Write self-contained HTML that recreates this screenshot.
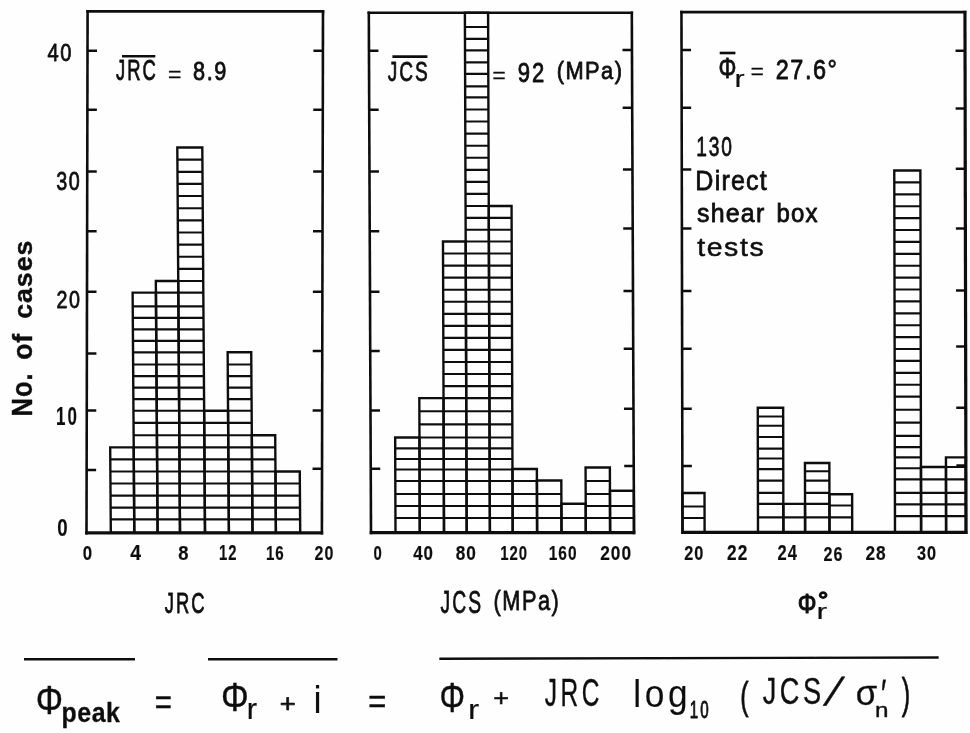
<!DOCTYPE html>
<html lang="en"><head><meta charset="utf-8"><title>Histograms of JRC, JCS and residual friction angle</title>
<style>
html,body{margin:0;padding:0;background:#fff;}
svg{display:block;}
</style></head>
<body>
<svg width="970" height="733" viewBox="0 0 970 733">
<defs><filter id="soft" x="0" y="0" width="970" height="733" filterUnits="userSpaceOnUse"><feGaussianBlur stdDeviation="0.55"/></filter></defs>
<rect width="970" height="733" fill="#fefefe"/>
<g filter="url(#soft)">
<g stroke="#111" fill="none" stroke-linecap="butt">
<g transform="translate(0,532.9) skewX(-0.12) translate(0,-532.9)">
<path d="M86.5 534.5V10.1" stroke-width="2.6"/>
<path d="M321.9 534.5V10.1" stroke-width="2.6"/>
<path d="M85.2 11.4H323.2" stroke-width="2.6"/>
<path d="M85.2 532.9H323.2" stroke-width="3.2"/>
<line x1="86.5" y1="50.8" x2="96.0" y2="50.8" stroke-width="2.5" />
<line x1="86.5" y1="109.8" x2="96.0" y2="109.8" stroke-width="2.5" />
<line x1="86.5" y1="171.5" x2="96.0" y2="171.5" stroke-width="2.5" />
<line x1="86.5" y1="231.3" x2="96.0" y2="231.3" stroke-width="2.5" />
<line x1="86.5" y1="291.7" x2="96.0" y2="291.7" stroke-width="2.5" />
<line x1="86.5" y1="353.5" x2="96.0" y2="353.5" stroke-width="2.5" />
<line x1="86.5" y1="410.5" x2="96.0" y2="410.5" stroke-width="2.5" />
<line x1="86.5" y1="470.0" x2="96.0" y2="470.0" stroke-width="2.5" />
<line x1="312.4" y1="50.8" x2="321.9" y2="50.8" stroke-width="2.5" />
<line x1="312.4" y1="109.8" x2="321.9" y2="109.8" stroke-width="2.5" />
<line x1="312.4" y1="171.5" x2="321.9" y2="171.5" stroke-width="2.5" />
<line x1="312.4" y1="231.3" x2="321.9" y2="231.3" stroke-width="2.5" />
<line x1="312.4" y1="291.7" x2="321.9" y2="291.7" stroke-width="2.5" />
<line x1="312.4" y1="351.0" x2="321.9" y2="351.0" stroke-width="2.5" />
<line x1="312.4" y1="410.5" x2="321.9" y2="410.5" stroke-width="2.5" />
<line x1="312.4" y1="468.7" x2="321.9" y2="468.7" stroke-width="2.5" />
</g>
<g transform="translate(0,532.9) skewX(0.4) translate(0,-532.9)">
<rect x="110.8" y="447.4" width="23.5" height="85.5" stroke-width="2.4"/>
<path d="M110.8 519.3H134.3M110.8 507.6H134.3M110.8 495.6H134.3M110.8 483.5H134.3M110.8 471.5H134.3M110.8 459.4H134.3" stroke-width="2.15"/>
<rect x="134.3" y="292.6" width="23.3" height="240.3" stroke-width="2.4"/>
<path d="M134.3 519.3H157.6M134.3 507.6H157.6M134.3 495.6H157.6M134.3 483.5H157.6M134.3 471.5H157.6M134.3 459.4H157.6M134.3 447.4H157.6M134.3 435.2H157.6M134.3 422.9H157.6M134.3 410.7H157.6M134.3 399.1H157.6M134.3 387.6H157.6M134.3 376.1H157.6M134.3 364.5H157.6M134.3 352.3H157.6M134.3 340.8H157.6M134.3 329.3H157.6M134.3 317.8H157.6M134.3 306.3H157.6" stroke-width="2.15"/>
<rect x="157.6" y="281.0" width="22.4" height="251.9" stroke-width="2.4"/>
<path d="M157.6 519.3H180.0M157.6 507.6H180.0M157.6 495.6H180.0M157.6 483.5H180.0M157.6 471.5H180.0M157.6 459.4H180.0M157.6 447.4H180.0M157.6 435.2H180.0M157.6 422.9H180.0M157.6 410.7H180.0M157.6 399.1H180.0M157.6 387.6H180.0M157.6 376.1H180.0M157.6 364.5H180.0M157.6 352.3H180.0M157.6 340.8H180.0M157.6 329.3H180.0M157.6 317.8H180.0M157.6 306.3H180.0M157.6 292.6H180.0" stroke-width="2.15"/>
<rect x="180.0" y="147.5" width="25.0" height="385.4" stroke-width="2.4"/>
<path d="M180.0 519.3H205.0M180.0 507.6H205.0M180.0 495.6H205.0M180.0 483.5H205.0M180.0 471.5H205.0M180.0 459.4H205.0M180.0 447.4H205.0M180.0 435.2H205.0M180.0 422.9H205.0M180.0 410.7H205.0M180.0 399.1H205.0M180.0 387.6H205.0M180.0 376.1H205.0M180.0 364.5H205.0M180.0 352.3H205.0M180.0 340.8H205.0M180.0 329.3H205.0M180.0 317.8H205.0M180.0 306.3H205.0M180.0 292.6H205.0M180.0 281.0H205.0M180.0 268.9H205.0M180.0 256.7H205.0M180.0 244.6H205.0M180.0 232.5H205.0M180.0 220.3H205.0M180.0 208.2H205.0M180.0 196.0H205.0M180.0 183.9H205.0M180.0 171.8H205.0M180.0 159.6H205.0" stroke-width="2.15"/>
<rect x="205.0" y="410.7" width="23.9" height="122.2" stroke-width="2.4"/>
<path d="M205.0 519.3H228.9M205.0 507.6H228.9M205.0 495.6H228.9M205.0 483.5H228.9M205.0 471.5H228.9M205.0 459.4H228.9M205.0 447.4H228.9M205.0 435.2H228.9M205.0 422.9H228.9" stroke-width="2.15"/>
<rect x="228.9" y="352.3" width="23.6" height="180.6" stroke-width="2.4"/>
<path d="M228.9 519.3H252.5M228.9 507.6H252.5M228.9 495.6H252.5M228.9 483.5H252.5M228.9 471.5H252.5M228.9 459.4H252.5M228.9 447.4H252.5M228.9 435.2H252.5M228.9 422.9H252.5M228.9 410.7H252.5M228.9 399.1H252.5M228.9 387.6H252.5M228.9 376.1H252.5M228.9 364.5H252.5" stroke-width="2.15"/>
<rect x="252.5" y="435.2" width="23.4" height="97.7" stroke-width="2.4"/>
<path d="M252.5 519.3H275.9M252.5 507.6H275.9M252.5 495.6H275.9M252.5 483.5H275.9M252.5 471.5H275.9M252.5 459.4H275.9M252.5 447.4H275.9" stroke-width="2.15"/>
<rect x="275.9" y="471.5" width="24.3" height="61.4" stroke-width="2.4"/>
<path d="M275.9 519.3H300.2M275.9 507.6H300.2M275.9 495.6H300.2M275.9 483.5H300.2" stroke-width="2.15"/>
</g>
<g transform="translate(0,532.6) skewX(0.242) translate(0,-532.6)">
<path d="M371.0 534.2V11.399999999999999" stroke-width="2.6"/>
<path d="M634.0 534.2V11.399999999999999" stroke-width="2.6"/>
<path d="M369.7 12.7H635.3" stroke-width="2.6"/>
<path d="M369.7 532.6H635.3" stroke-width="3.2"/>
<line x1="371.0" y1="50.8" x2="380.5" y2="50.8" stroke-width="2.5" />
<line x1="371.0" y1="109.8" x2="380.5" y2="109.8" stroke-width="2.5" />
<line x1="371.0" y1="171.5" x2="380.5" y2="171.5" stroke-width="2.5" />
<line x1="371.0" y1="231.3" x2="380.5" y2="231.3" stroke-width="2.5" />
<line x1="371.0" y1="291.7" x2="380.5" y2="291.7" stroke-width="2.5" />
<line x1="371.0" y1="351.0" x2="380.5" y2="351.0" stroke-width="2.5" />
<line x1="371.0" y1="410.5" x2="380.5" y2="410.5" stroke-width="2.5" />
<line x1="371.0" y1="468.7" x2="380.5" y2="468.7" stroke-width="2.5" />
<line x1="624.5" y1="50.0" x2="634.0" y2="50.0" stroke-width="2.5" />
<line x1="624.5" y1="107.8" x2="634.0" y2="107.8" stroke-width="2.5" />
<line x1="624.5" y1="169.5" x2="634.0" y2="169.5" stroke-width="2.5" />
<line x1="624.5" y1="228.5" x2="634.0" y2="228.5" stroke-width="2.5" />
<line x1="624.5" y1="291.0" x2="634.0" y2="291.0" stroke-width="2.5" />
<line x1="624.5" y1="348.7" x2="634.0" y2="348.7" stroke-width="2.5" />
<line x1="624.5" y1="408.7" x2="634.0" y2="408.7" stroke-width="2.5" />
<line x1="624.5" y1="466.0" x2="634.0" y2="466.0" stroke-width="2.5" />
</g>
<g transform="translate(0,532.6) skewX(0.2) translate(0,-532.6)">
<rect x="395.5" y="437.5" width="24.3" height="95.1" stroke-width="2.4"/>
<path d="M395.5 518.0H419.8M395.5 506.0H419.8M395.5 494.0H419.8M395.5 481.0H419.8M395.5 469.5H419.8M395.5 459.0H419.8M395.5 448.4H419.8" stroke-width="2.15"/>
<rect x="419.8" y="398.1" width="24.2" height="134.5" stroke-width="2.4"/>
<path d="M419.8 518.0H444.0M419.8 506.0H444.0M419.8 494.0H444.0M419.8 481.0H444.0M419.8 469.5H444.0M419.8 459.0H444.0M419.8 448.4H444.0M419.8 437.5H444.0M419.8 424.4H444.0M419.8 411.2H444.0" stroke-width="2.15"/>
<rect x="444.0" y="241.5" width="22.7" height="291.1" stroke-width="2.4"/>
<path d="M444.0 518.0H466.7M444.0 506.0H466.7M444.0 494.0H466.7M444.0 481.0H466.7M444.0 469.5H466.7M444.0 459.0H466.7M444.0 448.4H466.7M444.0 437.5H466.7M444.0 424.4H466.7M444.0 411.2H466.7M444.0 398.1H466.7M444.0 386.1H466.7M444.0 374.0H466.7M444.0 362.0H466.7M444.0 349.9H466.7M444.0 337.9H466.7M444.0 325.8H466.7M444.0 313.8H466.7M444.0 301.7H466.7M444.0 289.7H466.7M444.0 277.6H466.7M444.0 265.6H466.7M444.0 253.5H466.7" stroke-width="2.15"/>
<rect x="466.7" y="12.7" width="23.2" height="519.9" stroke-width="2.4"/>
<path d="M466.7 518.0H489.9M466.7 506.0H489.9M466.7 494.0H489.9M466.7 481.0H489.9M466.7 469.5H489.9M466.7 459.0H489.9M466.7 448.4H489.9M466.7 437.5H489.9M466.7 424.4H489.9M466.7 411.2H489.9M466.7 398.1H489.9M466.7 386.1H489.9M466.7 374.0H489.9M466.7 362.0H489.9M466.7 349.9H489.9M466.7 337.9H489.9M466.7 325.8H489.9M466.7 313.8H489.9M466.7 301.7H489.9M466.7 289.7H489.9M466.7 277.6H489.9M466.7 265.6H489.9M466.7 253.5H489.9M466.7 241.5H489.9M466.7 229.7H489.9M466.7 217.8H489.9M466.7 206.0H489.9M466.7 193.9H489.9M466.7 181.9H489.9M466.7 169.8H489.9M466.7 157.7H489.9M466.7 145.7H489.9M466.7 133.6H489.9M466.7 121.5H489.9M466.7 109.5H489.9M466.7 97.4H489.9M466.7 86.3H489.9M466.7 73.9H489.9M466.7 62.4H489.9M466.7 50.4H489.9M466.7 38.8H489.9M466.7 27.0H489.9" stroke-width="2.15"/>
<rect x="489.9" y="206.0" width="22.8" height="326.6" stroke-width="2.4"/>
<path d="M489.9 518.0H512.7M489.9 506.0H512.7M489.9 494.0H512.7M489.9 481.0H512.7M489.9 469.5H512.7M489.9 459.0H512.7M489.9 448.4H512.7M489.9 437.5H512.7M489.9 424.4H512.7M489.9 411.2H512.7M489.9 398.1H512.7M489.9 386.1H512.7M489.9 374.0H512.7M489.9 362.0H512.7M489.9 349.9H512.7M489.9 337.9H512.7M489.9 325.8H512.7M489.9 313.8H512.7M489.9 301.7H512.7M489.9 289.7H512.7M489.9 277.6H512.7M489.9 265.6H512.7M489.9 253.5H512.7M489.9 241.5H512.7M489.9 229.7H512.7M489.9 217.8H512.7" stroke-width="2.15"/>
<rect x="512.7" y="469.0" width="24.4" height="63.6" stroke-width="2.4"/>
<path d="M512.7 518.0H537.1M512.7 506.0H537.1M512.7 494.0H537.1M512.7 481.0H537.1" stroke-width="2.15"/>
<rect x="537.1" y="480.5" width="24.4" height="52.1" stroke-width="2.4"/>
<path d="M537.1 518.0H561.5M537.1 506.0H561.5M537.1 494.0H561.5" stroke-width="2.15"/>
<rect x="561.5" y="503.7" width="24.3" height="28.9" stroke-width="2.4"/>
<path d="M561.5 518.0H585.8" stroke-width="2.15"/>
<rect x="585.8" y="467.5" width="24.3" height="65.1" stroke-width="2.4"/>
<path d="M585.8 518.0H610.1M585.8 506.0H610.1M585.8 494.0H610.1M585.8 481.0H610.1" stroke-width="2.15"/>
<rect x="610.1" y="490.7" width="23.9" height="41.9" stroke-width="2.4"/>
<path d="M610.1 518.0H634.0M610.1 506.0H634.0" stroke-width="2.15"/>
</g>
<g transform="translate(0,532.3) skewX(0.115) translate(0,-532.3)">
<path d="M682.5 533.9V10.799999999999999" stroke-width="2.6"/>
<path d="M966.0 533.9V10.799999999999999" stroke-width="3.2"/>
<path d="M681.2 12.1H967.3" stroke-width="2.6"/>
<path d="M681.2 532.3H967.3" stroke-width="3.2"/>
<line x1="682.5" y1="50.0" x2="692.0" y2="50.0" stroke-width="2.5" />
<line x1="682.5" y1="107.8" x2="692.0" y2="107.8" stroke-width="2.5" />
<line x1="682.5" y1="169.5" x2="692.0" y2="169.5" stroke-width="2.5" />
<line x1="682.5" y1="228.5" x2="692.0" y2="228.5" stroke-width="2.5" />
<line x1="682.5" y1="291.0" x2="692.0" y2="291.0" stroke-width="2.5" />
<line x1="682.5" y1="348.7" x2="692.0" y2="348.7" stroke-width="2.5" />
<line x1="682.5" y1="408.7" x2="692.0" y2="408.7" stroke-width="2.5" />
<line x1="682.5" y1="466.0" x2="692.0" y2="466.0" stroke-width="2.5" />
<line x1="956.5" y1="50.8" x2="966.0" y2="50.8" stroke-width="2.5" />
<line x1="956.5" y1="108.5" x2="966.0" y2="108.5" stroke-width="2.5" />
<line x1="956.5" y1="168.8" x2="966.0" y2="168.8" stroke-width="2.5" />
<line x1="956.5" y1="228.5" x2="966.0" y2="228.5" stroke-width="2.5" />
<line x1="956.5" y1="290.6" x2="966.0" y2="290.6" stroke-width="2.5" />
<line x1="956.5" y1="346.5" x2="966.0" y2="346.5" stroke-width="2.5" />
<line x1="956.5" y1="407.7" x2="966.0" y2="407.7" stroke-width="2.5" />
<line x1="956.5" y1="465.5" x2="966.0" y2="465.5" stroke-width="2.5" />
</g>
<g transform="translate(0,532.3) skewX(0.115) translate(0,-532.3)">
<rect x="682.5" y="493.0" width="22.1" height="39.3" stroke-width="2.4"/>
<path d="M682.5 506.5H704.6M682.5 518.0H704.6" stroke-width="2.15"/>
<rect x="758.0" y="407.7" width="25.4" height="124.6" stroke-width="2.4"/>
<path d="M758.0 416.5H783.4M758.0 425.7H783.4M758.0 437.0H783.4M758.0 448.6H783.4M758.0 458.5H783.4M758.0 469.1H783.4M758.0 480.6H783.4M758.0 492.9H783.4M758.0 503.9H783.4M758.0 517.4H783.4" stroke-width="2.15"/>
<rect x="783.4" y="503.9" width="21.7" height="28.4" stroke-width="2.4"/>
<path d="M783.4 517.4H805.1" stroke-width="2.15"/>
<rect x="805.1" y="463.0" width="24.4" height="69.3" stroke-width="2.4"/>
<path d="M805.1 471.2H829.5M805.1 480.6H829.5M805.1 492.9H829.5M805.1 503.9H829.5M805.1 517.4H829.5" stroke-width="2.15"/>
<rect x="829.5" y="494.3" width="22.7" height="38.0" stroke-width="2.4"/>
<path d="M829.5 505.5H852.2M829.5 517.4H852.2" stroke-width="2.15"/>
<rect x="895.0" y="170.5" width="26.1" height="361.8" stroke-width="2.4"/>
<path d="M895.0 516.1H921.1M895.0 504.4H921.1M895.0 492.8H921.1M895.0 479.3H921.1M895.0 468.2H921.1M895.0 457.4H921.1M895.0 447.1H921.1M895.0 435.9H921.1M895.0 422.6H921.1M895.0 409.7H921.1M895.0 396.6H921.1M895.0 384.7H921.1M895.0 372.8H921.1M895.0 360.9H921.1M895.0 349.0H921.1M895.0 337.1H921.1M895.0 325.2H921.1M895.0 313.3H921.1M895.0 301.4H921.1M895.0 289.5H921.1M895.0 277.6H921.1M895.0 265.7H921.1M895.0 253.8H921.1M895.0 241.9H921.1M895.0 230.0H921.1M895.0 218.1H921.1M895.0 206.2H921.1M895.0 194.3H921.1M895.0 182.4H921.1" stroke-width="2.15"/>
<rect x="921.1" y="467.0" width="25.0" height="65.3" stroke-width="2.4"/>
<path d="M921.1 479.3H946.1M921.1 492.8H946.1M921.1 504.4H946.1M921.1 516.1H946.1" stroke-width="2.15"/>
<rect x="946.1" y="457.4" width="19.9" height="74.9" stroke-width="2.4"/>
<path d="M946.1 467.0H966.0M946.1 479.3H966.0M946.1 492.8H966.0M946.1 504.4H966.0M946.1 516.1H966.0" stroke-width="2.15"/>
</g>
<line x1="24.0" y1="659.2" x2="135.0" y2="659.2" stroke-width="2.5" />
<line x1="208.0" y1="659.2" x2="337.5" y2="659.2" stroke-width="2.5" />
<line x1="439.3" y1="658.7" x2="938.7" y2="657.5" stroke-width="2.4" />
<line x1="122.0" y1="56.3" x2="155.3" y2="56.3" stroke-width="2.6" />
<line x1="392.4" y1="56.6" x2="427.4" y2="56.6" stroke-width="2.6" />
<line x1="719.7" y1="53.0" x2="735.4" y2="53.0" stroke-width="2.6" />
</g>
<g fill="#111" stroke="#111" stroke-linejoin="round" font-family="'Liberation Sans', sans-serif">
<text transform="translate(47.54,60.96) scale(0.827,1)" font-size="24.29" stroke-width="0.8" letter-spacing="1.81">40</text>
<text transform="translate(56.25,189.95) scale(0.780,1)" font-size="25.28" stroke-width="0.8" letter-spacing="1.92">30</text>
<text transform="translate(56.62,308.17) scale(0.838,1)" font-size="23.45" stroke-width="0.8" letter-spacing="1.79">20</text>
<text transform="translate(56.03,425.04) scale(0.660,1)" font-size="25.71" stroke-width="0.2" font-weight="bold" letter-spacing="3.03">10</text>
<text transform="translate(57.27,535.75) scale(0.756,1)" font-size="24.72" stroke-width="0.2" font-weight="bold">0</text>
<text transform="translate(32.3,416) rotate(-90) translate(-0.51,-0.19) scale(0.872,1)" font-size="29.23" stroke-width="0.4" font-weight="bold" letter-spacing="1.15">No.</text>
<text transform="translate(32.3,416) rotate(-90) translate(56.16,-0.18) scale(0.943,1)" font-size="28.16" stroke-width="0.4" font-weight="bold" letter-spacing="1.06">of</text>
<text transform="translate(32.3,416) rotate(-90) translate(97.16,-0.16) scale(1.011,1)" font-size="26.41" stroke-width="0.4" font-weight="bold" letter-spacing="0.99">cases</text>
<text transform="translate(82.84,559.69) scale(0.799,1)" font-size="21.05" stroke-width="0.2" font-weight="bold" letter-spacing="1.25">0</text>
<text transform="translate(130.21,559.90) scale(0.896,1)" font-size="21.66" stroke-width="0.2" font-weight="bold" letter-spacing="1.12">4</text>
<text transform="translate(178.21,559.69) scale(0.877,1)" font-size="21.05" stroke-width="0.2" font-weight="bold" letter-spacing="1.14">8</text>
<text transform="translate(218.96,559.90) scale(0.696,1)" font-size="21.35" stroke-width="0.2" font-weight="bold" letter-spacing="1.44">12</text>
<text transform="translate(265.95,559.69) scale(0.718,1)" font-size="21.05" stroke-width="0.2" font-weight="bold" letter-spacing="1.39">16</text>
<text transform="translate(314.54,559.69) scale(0.761,1)" font-size="21.05" stroke-width="0.2" font-weight="bold" letter-spacing="1.31">20</text>
<text transform="translate(373.52,559.69) scale(0.709,1)" font-size="21.05" stroke-width="0.2" font-weight="bold" letter-spacing="1.41">0</text>
<text transform="translate(413.15,559.69) scale(0.805,1)" font-size="21.05" stroke-width="0.2" font-weight="bold" letter-spacing="1.24">40</text>
<text transform="translate(455.75,559.69) scale(0.819,1)" font-size="21.05" stroke-width="0.2" font-weight="bold" letter-spacing="1.22">80</text>
<text transform="translate(500.16,559.69) scale(0.708,1)" font-size="21.05" stroke-width="0.2" font-weight="bold" letter-spacing="1.41">120</text>
<text transform="translate(548.73,559.69) scale(0.735,1)" font-size="21.05" stroke-width="0.2" font-weight="bold" letter-spacing="1.36">160</text>
<text transform="translate(600.20,559.69) scale(0.821,1)" font-size="21.05" stroke-width="0.2" font-weight="bold" letter-spacing="1.22">200</text>
<text transform="translate(684.23,559.69) scale(0.775,1)" font-size="21.05" stroke-width="0.2" font-weight="bold" letter-spacing="1.29">20</text>
<text transform="translate(727.10,559.90) scale(0.809,1)" font-size="21.35" stroke-width="0.2" font-weight="bold" letter-spacing="1.24">22</text>
<text transform="translate(777.52,559.90) scale(0.773,1)" font-size="21.35" stroke-width="0.2" font-weight="bold" letter-spacing="1.29">24</text>
<text transform="translate(823.54,560.69) scale(0.767,1)" font-size="21.05" stroke-width="0.2" font-weight="bold" letter-spacing="1.30">26</text>
<text transform="translate(865.49,559.69) scale(0.822,1)" font-size="21.05" stroke-width="0.2" font-weight="bold" letter-spacing="1.22">28</text>
<text transform="translate(917.03,559.67) scale(0.772,1)" font-size="21.02" stroke-width="0.2" font-weight="bold" letter-spacing="1.30">30</text>
<text transform="translate(164.71,612.70) scale(0.621,1)" font-size="29.66" stroke-width="0.8" letter-spacing="3.22">JRC</text>
<text transform="translate(440.59,612.79) scale(0.629,1)" font-size="30.65" stroke-width="0.8" letter-spacing="3.18">JCS</text>
<text transform="translate(493.55,610.39) scale(0.762,1)" font-size="28.54" stroke-width="0.8" letter-spacing="1.97">(MPa)</text>
<text transform="translate(797.82,612.91) scale(0.864,1)" font-size="27.08" stroke-width="1.1">Φ</text>
<text transform="translate(816.60,618.90) scale(1.394,1)" font-size="22.86" stroke-width="0.2">r</text>
<text transform="translate(817.99,607.77) scale(1.079,1)" font-size="23.74" stroke-width="1.4">°</text>
<text transform="translate(116.11,80.31) scale(0.639,1)" font-size="28.81" stroke-width="0.8" letter-spacing="3.13">JRC</text>
<text transform="translate(168.08,81.66) scale(0.994,1)" font-size="22.98" stroke-width="0.4">=</text>
<text transform="translate(193.07,80.34) scale(0.844,1)" font-size="25.71" stroke-width="0.8" letter-spacing="1.78">8.9</text>
<text transform="translate(387.69,81.02) scale(0.690,1)" font-size="27.68" stroke-width="0.8" letter-spacing="2.90">JCS</text>
<text transform="translate(492.60,82.85) scale(1.032,1)" font-size="21.74" stroke-width="0.4">=</text>
<text transform="translate(517.66,81.93) scale(0.810,1)" font-size="27.26" stroke-width="0.8" letter-spacing="2.47">92</text>
<text transform="translate(556.65,79.49) scale(0.883,1)" font-size="24.68" stroke-width="0.8" letter-spacing="1.70">(MPa)</text>
<text transform="translate(718.62,77.66) scale(0.777,1)" font-size="28.80" stroke-width="0.8">Φ</text>
<text transform="translate(734.50,86.90) scale(1.273,1)" font-size="23.79" stroke-width="0.2">r</text>
<text transform="translate(750.71,79.36) scale(0.994,1)" font-size="22.36" stroke-width="0.4">=</text>
<text transform="translate(775.83,78.92) scale(0.830,1)" font-size="28.25" stroke-width="0.8" letter-spacing="1.81">27.6°</text>
<text transform="translate(696.34,155.72) scale(0.686,1)" font-size="27.97" stroke-width="0.8" letter-spacing="2.62">130</text>
<text transform="translate(695.35,189.52) scale(0.894,1)" font-size="28.03" stroke-width="0.8" letter-spacing="1.34">Direct</text>
<text transform="translate(697.10,222.13) scale(0.939,1)" font-size="26.53" stroke-width="0.8" letter-spacing="1.28">shear</text>
<text transform="translate(776.46,222.13) scale(0.905,1)" font-size="26.53" stroke-width="0.8" letter-spacing="1.33">box</text>
<text transform="translate(697.22,256.10) scale(1.130,1)" font-size="25.15" stroke-width="0.5" letter-spacing="1.42">tests</text>
<text transform="translate(35.85,714.19) scale(0.823,1)" font-size="41.55" stroke-width="0.4">Φ</text>
<text transform="translate(61.61,722.25) scale(0.925,1)" font-size="26.90" stroke-width="0.3" font-weight="bold" letter-spacing="0.54">peak</text>
<text transform="translate(154.81,714.49) scale(0.861,1)" font-size="34.16" stroke-width="0.5">=</text>
<text transform="translate(221.02,711.19) scale(0.837,1)" font-size="41.55" stroke-width="0.4">Φ</text>
<text transform="translate(246.85,718.90) scale(1.058,1)" font-size="29.37" stroke-width="0.2">r</text>
<text transform="translate(279.81,712.22) scale(1.062,1)" font-size="25.77" stroke-width="0.7">+</text>
<text transform="translate(313.82,712.70) scale(0.864,1)" font-size="39.45" stroke-width="0.2">i</text>
<text transform="translate(368.24,713.18) scale(0.920,1)" font-size="33.54" stroke-width="0.5">=</text>
<text transform="translate(439.38,712.29) scale(0.752,1)" font-size="42.55" stroke-width="0.4">Φ</text>
<text transform="translate(467.89,718.90) scale(1.185,1)" font-size="28.25" stroke-width="0.2">r</text>
<text transform="translate(493.23,706.41) scale(1.098,1)" font-size="24.54" stroke-width="0.5">+</text>
<text transform="translate(544.81,705.62) scale(0.640,1)" font-size="38.28" stroke-width="0.4" letter-spacing="5.47">JRC</text>
<text transform="translate(633.29,706.59) scale(0.921,1)" font-size="38.26" stroke-width="0.1" letter-spacing="3.91">log</text>
<text transform="translate(689.80,718.31) scale(0.627,1)" font-size="24.15" stroke-width="0.9" letter-spacing="3.19">10</text>
<text transform="translate(740.16,709.02) scale(0.654,1)" font-size="38.09" stroke-width="0.8">(</text>
<text transform="translate(762.77,704.24) scale(0.748,1)" font-size="36.30" stroke-width="0.4" letter-spacing="4.68">JCS</text>
<text transform="translate(823.2,705.3) skewX(-20) scale(1.05,1)" font-size="38.9" stroke-width="0.5">/</text>
<text transform="translate(855.69,704.59) scale(0.981,1)" font-size="35.50" stroke-width="0.3">σ</text>
<text transform="translate(881.13,707.02) scale(0.664,1)" font-size="39.13" stroke-width="0.8">′</text>
<text transform="translate(874.90,717.10) scale(1.175,1)" font-size="20.63" stroke-width="0.4">n</text>
<text transform="translate(901.75,708.23) scale(0.583,1)" font-size="43.35" stroke-width="0.8">)</text>
</g>
</g>
</svg>
</body></html>
